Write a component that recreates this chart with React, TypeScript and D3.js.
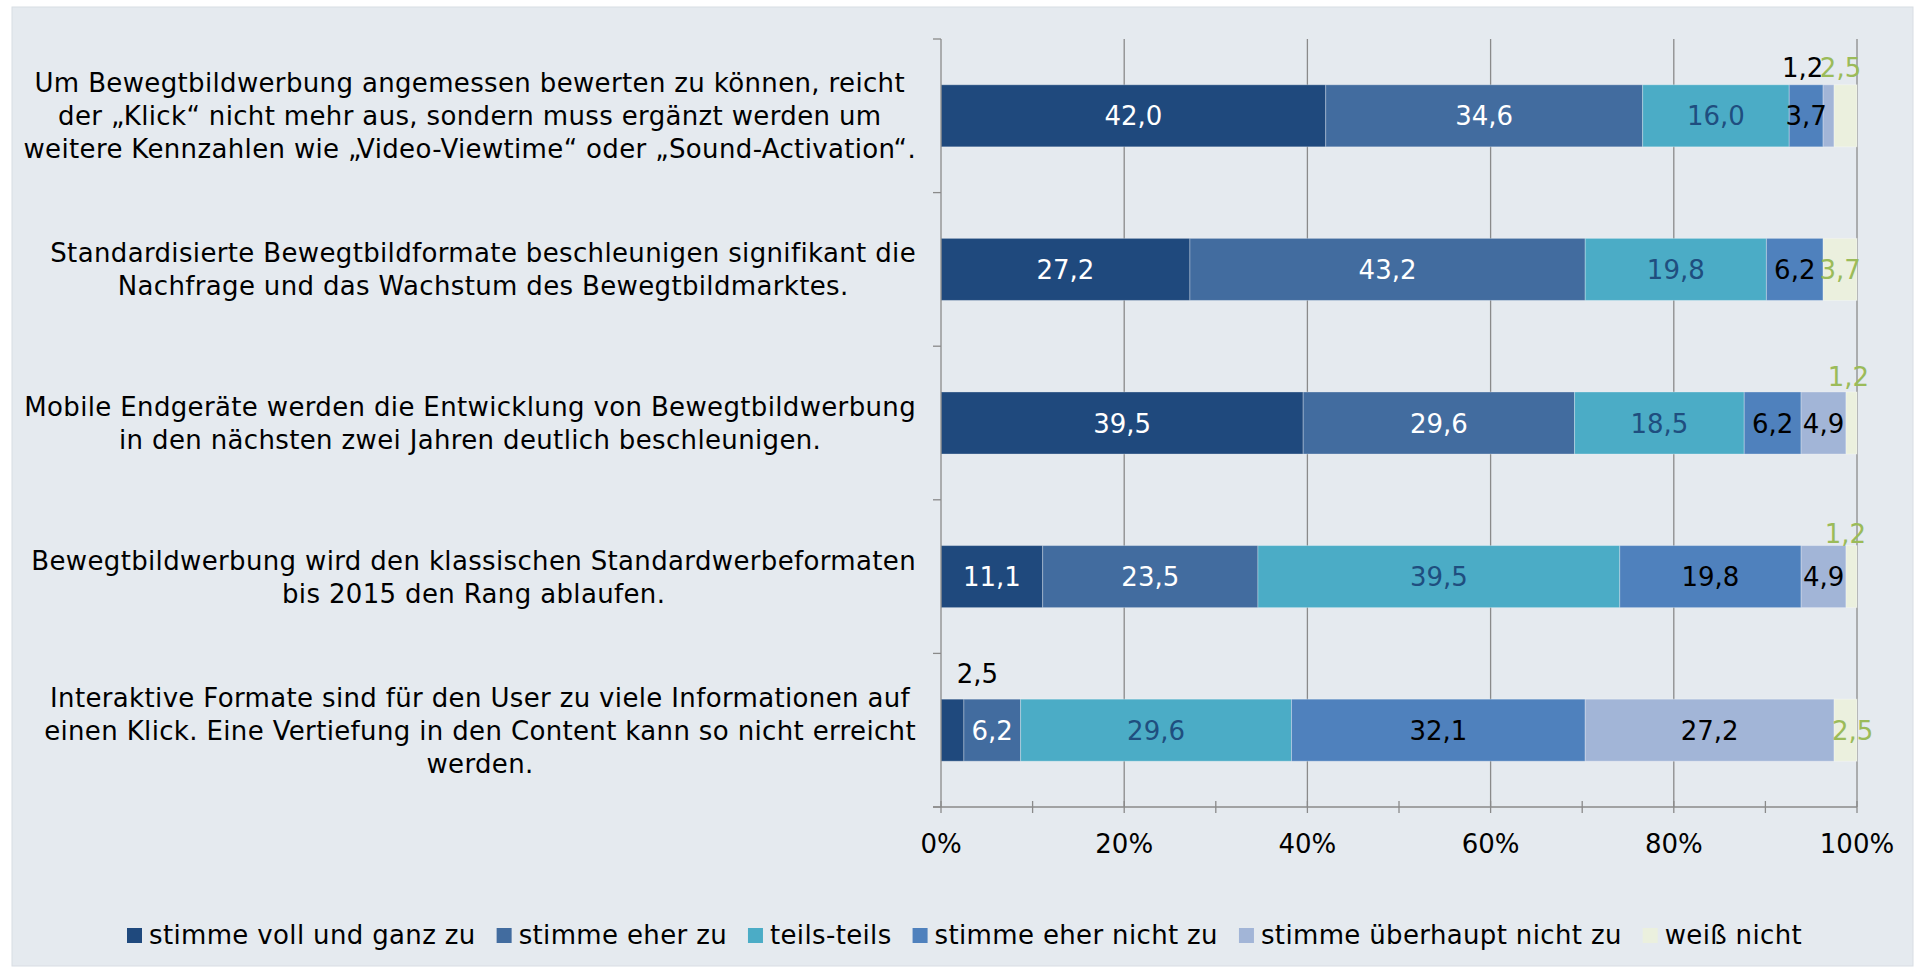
import React, { useEffect, useRef } from 'react';
import * as d3 from 'd3';

const categories: string[][] = [
  [
    'Um Bewegtbildwerbung angemessen bewerten zu können, reicht',
    'der „Klick“ nicht mehr aus, sondern muss ergänzt werden um',
    'weitere Kennzahlen wie „Video-Viewtime“ oder „Sound-Activation“.',
  ],
  [
    'Standardisierte Bewegtbildformate beschleunigen signifikant die',
    'Nachfrage und das Wachstum des Bewegtbildmarktes.',
  ],
  [
    'Mobile Endgeräte werden die Entwicklung von Bewegtbildwerbung',
    'in den nächsten zwei Jahren deutlich beschleunigen.',
  ],
  [
    'Bewegtbildwerbung wird den klassischen Standardwerbeformaten',
    'bis 2015 den Rang ablaufen.',
  ],
  [
    'Interaktive Formate sind für den User zu viele Informationen auf',
    'einen Klick. Eine Vertiefung in den Content kann so nicht erreicht',
    'werden.',
  ],
];

const seriesNames = [
  'stimme voll und ganz zu',
  'stimme eher zu',
  'teils-teils',
  'stimme eher nicht zu',
  'stimme überhaupt nicht zu',
  'weiß nicht',
];

const vollUndGanz = [42.0, 27.2, 39.5, 11.1, 2.5];
const eherZu = [34.6, 43.2, 29.6, 23.5, 6.2];
const teilsTeils = [16.0, 19.8, 18.5, 39.5, 29.6];
const eherNicht = [3.7, 6.2, 6.2, 19.8, 32.1];
const ueberhauptNicht = [1.2, 0, 4.9, 4.9, 27.2];
const weissNicht = [2.5, 3.7, 1.2, 1.2, 2.5];

const seriesValues = [vollUndGanz, eherZu, teilsTeils, eherNicht, ueberhauptNicht, weissNicht];

const tickValues = [0, 0.2, 0.4, 0.6, 0.8, 1];
const tickLabels = ['0%', '20%', '40%', '60%', '80%', '100%'];
const minorTicks = [0, 0.1, 0.2, 0.3, 0.4, 0.5, 0.6, 0.7, 0.8, 0.9, 1];

const colors = ['#1f497d', '#426c9f', '#4bacc6', '#4f81bd', '#a2b5d7', '#ebf0de'];
const labelColors = ['#ffffff', '#ffffff', '#1f4e7f', '#000000', '#000000', '#9bbb59'];

// label placement overrides: key "row-series"
const labelPlacement: Record<string, { mode: 'above' | 'inside'; dx: number; dy?: number; color?: string }> = {
  '0-4': { mode: 'above', dx: -26, dy: -8 },
  '0-5': { mode: 'above', dx: -5, dy: -8 },
  '2-5': { mode: 'above', dx: -3, dy: -6 },
  '3-5': { mode: 'above', dx: -6, dy: -3 },
  '4-0': { mode: 'above', dx: 25, dy: -16, color: '#000000' },
  '4-5': { mode: 'inside', dx: 7 },
};

const FONT = 'Verdana, "DejaVu Sans", sans-serif';
const FS = 26;
const LS = 0.35;

export default function App() {
  const ref = useRef<SVGSVGElement | null>(null);

  useEffect(() => {
    const svg = d3.select(ref.current);
    svg.selectAll('*').remove();

    const x0 = 941, x1 = 1857, yTop = 39, yBot = 807;

    svg.append('rect').attr('x', 12).attr('y', 7).attr('width', 1901).attr('height', 959)
      .attr('fill', '#e5eaef').attr('stroke', '#d8dde3').attr('stroke-width', 1);

    const x = d3.scaleLinear().domain([0, 1]).range([x0, x1]);
    const y = d3.scaleBand<number>().domain(d3.range(categories.length))
      .range([yTop, yBot]).paddingInner(0.596).paddingOuter(0.298);

    const rows = categories.map((_, i) => {
      const o: Record<string, number> = {};
      seriesValues.forEach((s, j) => (o['s' + j] = s[i]));
      return o;
    });
    const keys = seriesValues.map((_, j) => 's' + j);
    const stacked = d3.stack<Record<string, number>>().keys(keys).offset(d3.stackOffsetExpand)(rows);

    const g = svg.append('g');

    // gridlines
    g.selectAll('line.grid').data(tickValues.slice(1)).enter().append('line')
      .attr('x1', (d) => x(d)).attr('x2', (d) => x(d))
      .attr('y1', yTop).attr('y2', yBot)
      .attr('stroke', '#8a8a8a').attr('stroke-width', 1.3);

    // bars
    stacked.forEach((layer, j) => {
      g.append('g').selectAll('rect').data(layer).enter().append('rect')
        .attr('x', (d) => x(d[0]))
        .attr('width', (d) => Math.max(0, x(d[1]) - x(d[0])))
        .attr('y', (_, i) => y(i)!)
        .attr('height', y.bandwidth())
        .attr('fill', colors[j])
        .attr('stroke', 'rgba(255,255,255,0.3)')
        .attr('stroke-width', (d) => (d[1] - d[0] > 0 ? 1 : 0));
    });

    // axes
    g.append('line').attr('x1', x0).attr('x2', x0).attr('y1', yTop).attr('y2', yBot)
      .attr('stroke', '#8a8a8a').attr('stroke-width', 1.3);
    g.append('line').attr('x1', x0 - 8).attr('x2', x1).attr('y1', yBot).attr('y2', yBot)
      .attr('stroke', '#8a8a8a').attr('stroke-width', 1.3);
    const bounds = d3.range(categories.length + 1).map((i) => yTop + i * y.step());
    g.selectAll('line.ctick').data(bounds).enter().append('line')
      .attr('x1', x0 - 8).attr('x2', x0).attr('y1', (d) => d).attr('y2', (d) => d)
      .attr('stroke', '#8a8a8a').attr('stroke-width', 1.3);
    g.selectAll('line.xtick').data(minorTicks).enter().append('line')
      .attr('x1', (d) => x(d)).attr('x2', (d) => x(d))
      .attr('y1', yBot - 6).attr('y2', yBot + 6)
      .attr('stroke', '#8a8a8a').attr('stroke-width', 1.3);

    g.selectAll('text.xlab').data(tickValues).enter().append('text')
      .attr('x', (d) => x(d)).attr('y', 853)
      .attr('text-anchor', 'middle')
      .attr('font-family', FONT).attr('font-size', FS).attr('fill', '#000')
      .text((_, i) => tickLabels[i]);

    // category labels
    const labelRight = 916;
    const lineH = 33;
    categories.forEach((lines, i) => {
      const cy = y(i)! + y.bandwidth() / 2;
      const grp = g.append('g');
      const texts = lines.map((ln, k) =>
        grp.append('text')
          .attr('y', cy + (k - (lines.length - 1) / 2) * lineH + 9.5)
          .attr('text-anchor', 'middle')
          .attr('font-family', FONT).attr('font-size', FS).attr('letter-spacing', LS).attr('fill', '#000')
          .text(ln)
      );
      const widths = texts.map((t) => (t.node() as SVGTextElement).getComputedTextLength());
      const maxW = Math.max(...widths);
      texts.forEach((t) => t.attr('x', labelRight - maxW / 2));
    });

    // data labels
    stacked.forEach((layer, j) => {
      layer.forEach((d, i) => {
        const v = seriesValues[j][i];
        if (!v) return;
        const key = i + '-' + j;
        const pl = labelPlacement[key];
        const cx = (x(d[0]) + x(d[1])) / 2;
        const top = y(i)!;
        const cy = top + y.bandwidth() / 2;
        let tx = cx, ty = cy + 9.5;
        if (pl) {
          tx = cx + pl.dx;
          if (pl.mode === 'above') ty = top + (pl.dy ?? -8);
        }
        g.append('text')
          .attr('x', tx).attr('y', ty)
          .attr('text-anchor', 'middle')
          .attr('font-family', FONT).attr('font-size', FS)
          .attr('fill', pl?.color ?? labelColors[j])
          .text(d3.format('.1f')(v).replace('.', ','));
      });
    });

    // legend
    const lg = svg.append('g');
    const items = seriesNames.map((name, j) => {
      const it = lg.append('g');
      it.append('rect').attr('x', 0).attr('y', 928).attr('width', 15).attr('height', 15).attr('fill', colors[j]);
      const t = it.append('text').attr('x', 22).attr('y', 944)
        .attr('font-family', FONT).attr('font-size', FS).attr('letter-spacing', LS).attr('fill', '#000').text(name);
      return { it, w: 22 + (t.node() as SVGTextElement).getComputedTextLength() };
    });
    const gap = 21;
    let cx = 127;
    items.forEach((d) => {
      d.it.attr('transform', `translate(${cx},0)`);
      cx += d.w + gap;
    });
  }, []);

  return (
    <svg
      ref={ref}
      width={1917}
      height={968}
      style={{ position: 'absolute', left: 0, top: 0, display: 'block' }}
    />
  );
}
